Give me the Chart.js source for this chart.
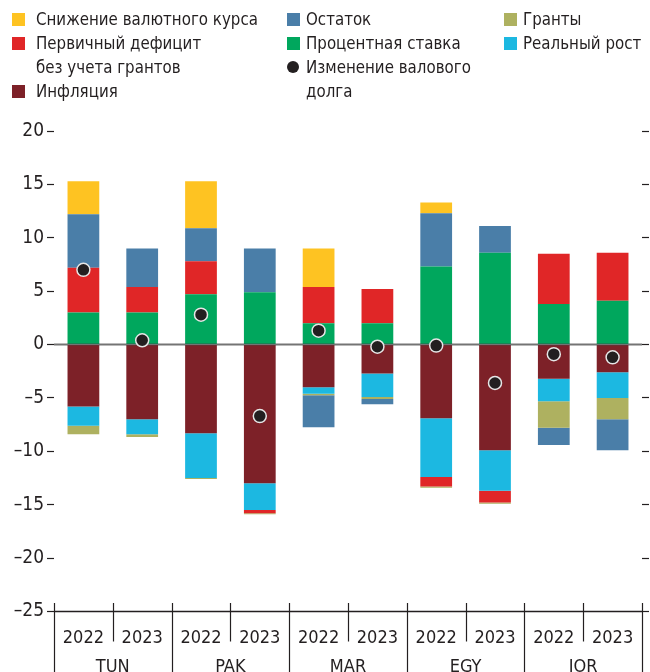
<!DOCTYPE html>
<html lang="ru">
<head>
    <meta charset="utf-8">
    <title>Изменение валового долга</title>
    <script src="https://cdn.jsdelivr.net/npm/chart.js"></script>
    <style>
        html, body { margin: 0; padding: 0; background: #fff; }
        body {
            width: 650px; height: 672px; position: relative; overflow: hidden;
            font-family: "DejaVu Sans Condensed", "Liberation Sans Narrow", sans-serif;
            color: #231f20;
        }
        #wrap { position: absolute; left: 0; top: 0; width: 650px; height: 672px; }
        .legend { position: absolute; left: 0; top: 0; width: 650px; height: 110px; font-size: 18px; }
        .item {
            position: absolute; line-height: 24px; white-space: nowrap;
            transform: scaleX(0.93); transform-origin: 0 0;
        }
        .sw { position: absolute; width: 13px; height: 13px; }
        .dot { border-radius: 50%; width: 12px; height: 12px; }
    </style>
</head>
<body>
    <div id="wrap"><canvas id="debtChart" width="650" height="672"></canvas></div>

    <div class="legend">
        <span class="sw" style="left:12px; top:13px; background:#fec322"></span>
        <div class="item" style="left:36px; top:7px">Снижение валютного курса</div>
        <span class="sw" style="left:12px; top:37px; background:#e02627"></span>
        <div class="item" style="left:36px; top:31px">Первичный дефицит<br>без учета грантов</div>
        <span class="sw" style="left:12px; top:85px; background:#7d2128"></span>
        <div class="item" style="left:36px; top:79px">Инфляция</div>

        <span class="sw" style="left:287px; top:13px; background:#4a7ea8"></span>
        <div class="item" style="left:306px; top:7px">Остаток</div>
        <span class="sw" style="left:287px; top:37px; background:#00a75d"></span>
        <div class="item" style="left:306px; top:31px">Процентная ставка</div>
        <span class="sw dot" style="left:287px; top:61px; background:#231f20"></span>
        <div class="item" style="left:306px; top:55px">Изменение валового<br>долга</div>

        <span class="sw" style="left:504px; top:13px; background:#aeb160"></span>
        <div class="item" style="left:523px; top:7px">Гранты</div>
        <span class="sw" style="left:504px; top:37px; background:#1cb8e1"></span>
        <div class="item" style="left:523px; top:31px">Реальный рост</div>
    </div>

    <script>
        const countries = ['TUN', 'PAK', 'MAR', 'EGY', 'JOR'];
        const years = ['2022', '2023'];

        // bars in order TUN22, TUN23, PAK22, PAK23, MAR22, MAR23, EGY22, EGY23, JOR22, JOR23
        const interestRate  = [3.0, 3.0, 4.7, 4.9, 2.0, 2.0, 7.3, 8.6, 3.8, 4.1];
        const inflation     = [-5.8, -7.0, -8.3, -13.0, -4.0, -2.7, -6.9, -9.9, -3.2, -2.6];
        const realGrowth    = [-1.8, -1.4, -4.2, -2.5, -0.6, -2.2, -5.5, -3.8, -2.1, -2.4];
        const primaryDef    = [4.2, 2.4, 3.1, -0.3, 3.4, 3.2, -0.9, -1.1, 4.7, 4.5];
        const grants        = [-0.8, -0.25, -0.1, -0.1, -0.15, -0.2, -0.1, -0.1, -2.5, -2.0];
        const residual      = [5.0, 3.6, 3.1, 4.1, -3.0, -0.5, 5.0, 2.5, -1.6, -2.9];
        const exchangeRate  = [3.1, 0, 4.4, 0, 3.6, 0, 1.0, 0, 0, 0];
        const debtChange    = [7.0, 0.4, 2.8, -6.7, 1.3, -0.2, -0.1, -3.6, -0.9, -1.2];

        const Y_MIN = -25, Y_MAX = 20, Y_STEP = 5;

        const labels = [];
        countries.forEach(c => years.forEach(y => labels.push(c + ' ' + y)));

        const FONT = '"DejaVu Sans Condensed", "Liberation Sans Narrow", sans-serif';
        const INK = '#231f20';

        function bar(label, data, color) {
            return {
                type: 'bar', label, data, backgroundColor: color, borderWidth: 0,
                categoryPercentage: 1, barPercentage: 0.54, stack: 'bars'
            };
        }

        // zero line goes over the bars but under the dots
        const zeroLine = {
            id: 'zeroLine',
            beforeDatasetDraw(chart, args) {
                if (args.meta.type !== 'line') return;
                const { ctx, chartArea, scales: { y } } = chart;
                const y0 = y.getPixelForValue(0);
                ctx.save();
                ctx.strokeStyle = 'rgba(70,70,70,0.75)';
                ctx.lineWidth = 2;
                ctx.beginPath();
                ctx.moveTo(chartArea.left, y0);
                ctx.lineTo(chartArea.right, y0);
                ctx.stroke();
                ctx.restore();
            }
        };

        // two-level category axis under the bars
        const groupAxis = {
            id: 'groupAxis',
            afterDraw(chart) {
                const { ctx, chartArea, scales: { x, y } } = chart;
                const yb = y.getPixelForValue(Y_MIN);
                const step = x.getPixelForValue(1) - x.getPixelForValue(0);
                ctx.save();
                ctx.strokeStyle = INK;
                ctx.lineWidth = 1.5;
                ctx.beginPath();
                ctx.moveTo(chartArea.left, yb);
                ctx.lineTo(chartArea.right, yb);
                ctx.stroke();

                ctx.lineWidth = 1.2;
                for (let i = 0; i <= labels.length; i++) {
                    const px = Math.round(x.getPixelForValue(i) - step / 2) + 0.5;
                    const full = i % years.length === 0;
                    ctx.beginPath();
                    ctx.moveTo(px, yb - 8.5);
                    ctx.lineTo(px, full ? chart.height : yb + 30);
                    ctx.stroke();
                }

                ctx.fillStyle = INK;
                ctx.font = '18px ' + FONT;
                ctx.textAlign = 'center';
                ctx.textBaseline = 'alphabetic';
                labels.forEach((l, i) => {
                    ctx.fillText(years[i % years.length], x.getPixelForValue(i), yb + 31);
                });
                countries.forEach((c, g) => {
                    const a = x.getPixelForValue(g * years.length);
                    const b = x.getPixelForValue(g * years.length + years.length - 1);
                    ctx.fillText(c, (a + b) / 2, yb + 60);
                });
                ctx.restore();
            }
        };

        const ctx = document.getElementById('debtChart').getContext('2d');
        new Chart(ctx, {
            data: {
                labels,
                datasets: [
                    bar('Процентная ставка', interestRate, '#00a75d'),
                    bar('Инфляция', inflation, '#7d2128'),
                    bar('Реальный рост', realGrowth, '#1cb8e1'),
                    bar('Первичный дефицит без учета грантов', primaryDef, '#e02627'),
                    bar('Гранты', grants, '#aeb160'),
                    bar('Остаток', residual, '#4a7ea8'),
                    bar('Снижение валютного курса', exchangeRate, '#fec322'),
                    {
                        type: 'line', label: 'Изменение валового долга', data: debtChange,
                        showLine: false, stack: 'dots', order: -1,
                        pointRadius: 6.5, pointHoverRadius: 6.5,
                        pointBackgroundColor: INK, pointBorderColor: '#e6e6e6', pointBorderWidth: 1.5
                    }
                ]
            },
            options: {
                responsive: false,
                animation: false,
                layout: { padding: { top: 131, bottom: 0, left: 0, right: 0 } },
                plugins: { legend: { display: false }, tooltip: { enabled: false } },
                scales: {
                    x: {
                        stacked: true,
                        grid: { display: false },
                        border: { display: false },
                        ticks: { display: false },
                        afterFit: s => { s.height = 60.5; }
                    },
                    y: {
                        stacked: true,
                        min: Y_MIN, max: Y_MAX,
                        border: { display: false },
                        grid: { drawOnChartArea: false, drawTicks: true, tickLength: 7, tickColor: INK, tickWidth: 1.2 },
                        ticks: {
                            stepSize: Y_STEP, padding: 3, color: INK,
                            font: { family: FONT, size: 19 },
                            callback: v => String(v).replace('-', '\u2013')
                        },
                        afterFit: s => { s.width = 54; }
                    },
                    y2: {
                        position: 'right',
                        min: Y_MIN, max: Y_MAX,
                        border: { display: false },
                        grid: { drawOnChartArea: false, drawTicks: true, tickLength: 7, tickColor: INK, tickWidth: 1.2 },
                        ticks: { stepSize: Y_STEP, display: false },
                        afterFit: s => { s.width = 5; }
                    }
                }
            },
            plugins: [zeroLine, groupAxis]
        });
    </script>
</body>
</html>
